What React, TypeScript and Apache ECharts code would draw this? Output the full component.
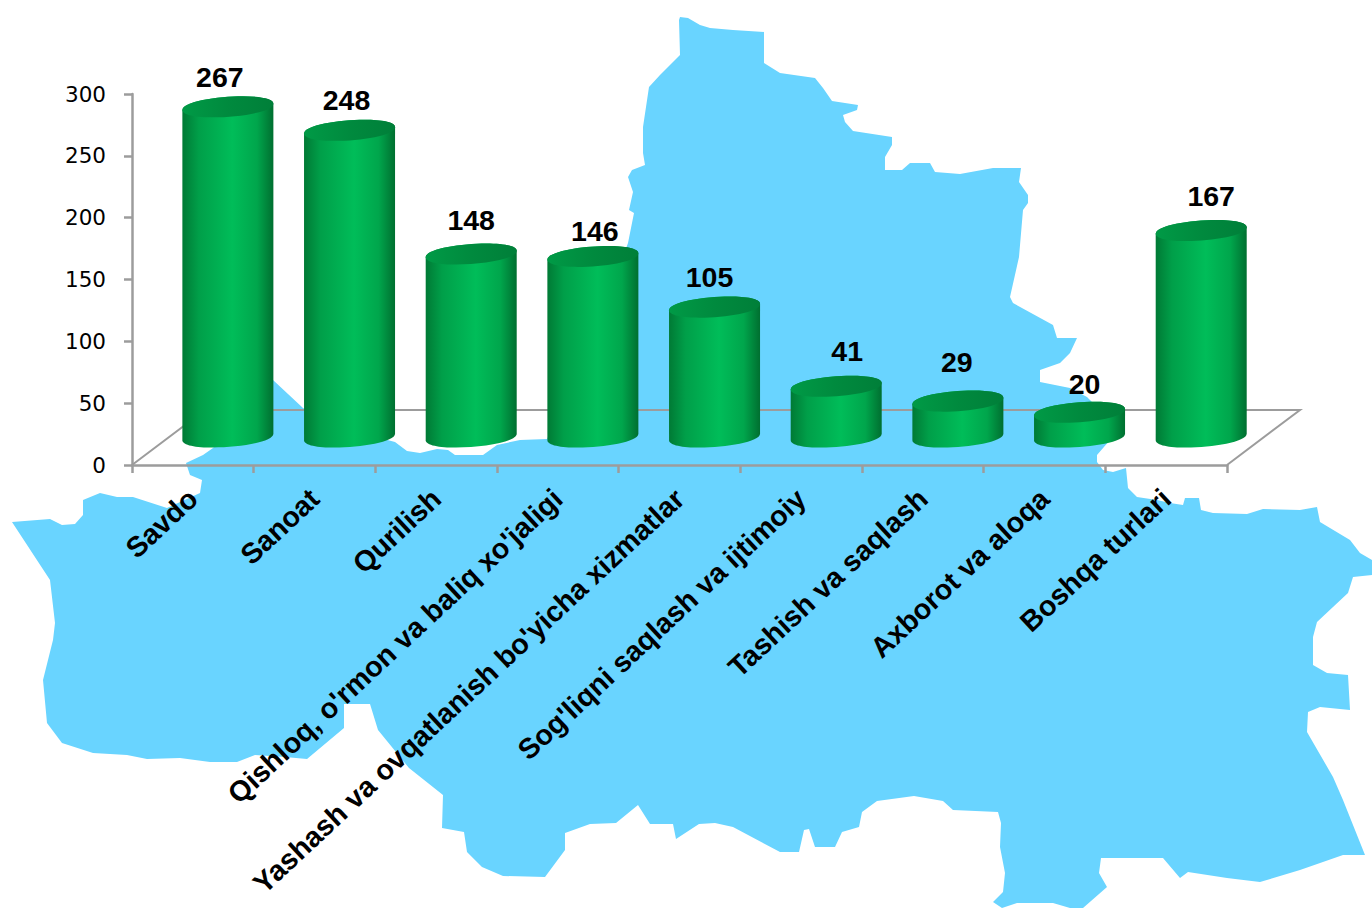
import React, { useEffect, useRef } from "react";
import * as echarts from "echarts";

const categories = [
  "Savdo",
  "Sanoat",
  "Qurilish",
  "Qishloq, o'rmon va baliq xo'jaligi",
  "Yashash va ovqatlanish bo'yicha xizmatlar",
  "Sog'liqni saqlash va ijtimoiy",
  "Tashish va saqlash",
  "Axborot va aloqa",
  "Boshqa turlari",
];
const values = [267, 248, 148, 146, 105, 41, 29, 20, 167];
const yTicks = { min: 0, max: 300, interval: 50 };

// Hand-placed nudges of the value labels in the reference.
const labelNudgeX = [-8, -3, 0, 2, -5, 11, -1, 5, 10];
const labelNudgeY = [-30, -30, -34, -25, -30, -35, -39, -28, -34];

const mapOutline: number[][] = [
  [680,17],[688,18],[700,25],[710,28],[733,30],[764,32],[764,63],[780,73],[815,78],[823,88],[832,101],[858,105],[857,110],[843,115],[845,122],[853,131],[892,137],[892,145],[885,157],[885,170],[902,170],[910,163],[930,163],[935,172],[960,174],[993,168],[1021,168],[1019,182],[1028,195],[1028,203],[1023,210],[1019,257],[1010,297],[1013,303],[1053,325],[1057,338],[1077,338],[1070,353],[1060,363],[1040,370],[1040,382],[1070,388],[1087,397],[1100,410],[1110,440],[1097,455],[1097,462],[1103,470],[1113,472],[1126,468],[1128,488],[1137,497],[1157,500],[1170,503],[1183,505],[1185,498],[1199,498],[1201,510],[1213,513],[1247,514],[1263,509],[1300,510],[1317,507],[1320,522],[1350,540],[1360,553],[1372,560],[1372,575],[1353,577],[1348,593],[1333,607],[1317,622],[1313,637],[1313,665],[1327,673],[1348,675],[1350,710],[1320,707],[1308,712],[1307,732],[1333,777],[1343,800],[1365,855],[1343,855],[1300,870],[1260,882],[1227,878],[1188,872],[1180,878],[1163,858],[1101,858],[1099,873],[1107,887],[1083,908],[1070,908],[1053,903],[1017,903],[1002,908],[993,902],[1003,892],[1005,873],[1000,847],[1001,823],[998,812],[953,810],[943,801],[914,796],[877,801],[862,812],[859,827],[842,832],[835,847],[815,847],[809,829],[804,830],[799,852],[780,852],[733,827],[715,823],[699,824],[676,839],[673,824],[650,824],[638,805],[616,823],[590,824],[565,833],[565,850],[545,877],[503,876],[482,867],[467,852],[464,832],[442,828],[443,795],[409,768],[378,730],[370,704],[344,704],[344,728],[307,759],[285,757],[255,755],[237,762],[210,762],[180,758],[147,759],[127,755],[93,753],[62,743],[47,723],[43,680],[53,640],[55,623],[50,580],[12,522],[50,519],[62,525],[75,524],[83,515],[83,500],[100,493],[117,497],[133,497],[167,508],[200,493],[202,480],[190,475],[186,463],[203,455],[213,448],[240,420],[273,380],[303,408],[350,430],[395,442],[407,451],[420,453],[437,449],[448,450],[455,455],[483,455],[497,445],[520,440],[547,439],[590,350],[628,243],[634,213],[629,210],[633,192],[628,177],[632,170],[645,165],[643,153],[643,127],[649,87],[660,75],[680,55],[679,20],
];

const BLACK = "#000";
const AXIS = "#9c9c9c";
const tilt = (4 * Math.PI) / 180;

function renderBar(params: any, api: any) {
  const i = api.value(0);
  const v = api.value(1);
  const top = api.coord([i, v]);
  const zero = api.coord([i, 0]);
  const band = api.size([1, 0])[0];
  const cx = top[0] + band * 0.288;
  const rx = band * 0.374;
  const ry = 10;
  const dy = rx * Math.sin(tilt);
  const lift = 28;
  const topY = top[1] - lift;
  const botY = zero[1] - lift;
  const k = ry * 1.333;
  const lx = cx - rx;
  const rr = cx + rx;
  // half ellipses with vertical tangents, so the cap never passes the body's sides
  const lower = (y: number) => `C ${lx} ${y + dy + k} ${rr} ${y - dy + k} ${rr} ${y - dy}`;
  const upper = (y: number) => `C ${rr} ${y - dy - k} ${lx} ${y + dy - k} ${lx} ${y + dy}`;
  const body = `M ${lx} ${topY + dy} L ${lx} ${botY + dy} ${lower(botY)} L ${rr} ${topY - dy} ${upper(topY)} Z`;
  const cap = `M ${lx} ${topY + dy} ${lower(topY)} ${upper(topY)} Z`;
  return {
    type: "group",
    children: [
      {
        type: "path",
        shape: { pathData: body },
        style: {
          fill: new echarts.graphic.LinearGradient(0, 0, 1, 0, [
            { offset: 0, color: "#007a35" },
            { offset: 0.18, color: "#009f49" },
            { offset: 0.55, color: "#00bd59" },
            { offset: 0.82, color: "#00a64c" },
            { offset: 1, color: "#006f30" },
          ]),
        },
      },
      {
        type: "path",
        shape: { pathData: cap },
        style: {
          fill: new echarts.graphic.LinearGradient(0, 0, 1, 0, [
            { offset: 0, color: "#009a46" },
            { offset: 0.5, color: "#008a3e" },
            { offset: 1, color: "#007f39" },
          ]),
        },
      },
      {
        type: "text",
        style: {
          text: String(v),
          x: cx + labelNudgeX[i],
          y: topY + labelNudgeY[i],
          align: "center",
          verticalAlign: "middle",
          fill: BLACK,
          font: 'bold 28.5px "Liberation Sans"',
        },
      },
    ],
  };
}

function renderFloor(params: any, api: any) {
  const g = params.coordSys;
  const bottom = g.y + g.height;
  const depthX = 73;
  const depthY = 55;
  return {
    type: "polyline",
    shape: {
      points: [
        [g.x, bottom],
        [g.x + depthX, bottom - depthY],
        [g.x + g.width + depthX, bottom - depthY],
        [g.x + g.width, bottom],
      ],
    },
    style: { fill: "none", stroke: AXIS, lineWidth: 2 },
  };
}

export default function App() {
  const ref = useRef<HTMLDivElement>(null);
  useEffect(() => {
    document.body.style.margin = "0";
    const chart = echarts.init(ref.current!, null, { renderer: "svg" });
    chart.setOption({
      animation: false,
      backgroundColor: "#fff",
      grid: { left: 132, right: 145, top: 94, bottom: 446, containLabel: false },
      graphic: [
        {
          type: "polygon",
          z: -10,
          silent: true,
          shape: { points: mapOutline },
          style: { fill: "#69d4ff" },
        },
      ],
      xAxis: {
        type: "category",
        data: categories,
        axisLine: { lineStyle: { color: AXIS, width: 2.5 } },
        axisTick: { show: true, length: 8, alignWithLabel: false, lineStyle: { color: AXIS, width: 2.5 } },
        axisLabel: {
          interval: 0,
          rotate: 43,
          margin: 29,
          color: BLACK,
          fontFamily: "Liberation Sans",
          fontWeight: "bold",
          fontSize: 28.6,
          hideOverlap: false,
        },
        z: 1,
      },
      yAxis: {
        type: "value",
        min: yTicks.min,
        max: yTicks.max,
        interval: yTicks.interval,
        splitLine: { show: false },
        axisLine: { show: true, lineStyle: { color: AXIS, width: 2.5 } },
        axisTick: { show: true, length: 8, lineStyle: { color: AXIS, width: 2.5 } },
        axisLabel: { margin: 26, color: BLACK, fontFamily: "DejaVu Sans", fontSize: 21.5, padding: [5, 0, 0, 0] },
        z: 1,
      },
      series: [
        {
          type: "custom",
          name: "floor",
          z: 1,
          clip: false,
          silent: true,
          data: [[0, 0]],
          encode: { x: 0, y: 1 },
          renderItem: renderFloor,
        },
        {
          type: "custom",
          name: "values",
          z: 3,
          clip: false,
          silent: true,
          data: values.map((v, i) => [i, v]),
          encode: { x: 0, y: 1 },
          renderItem: renderBar,
        },
      ],
    });
    return () => chart.dispose();
  }, []);
  return <div ref={ref} style={{ width: 1372, height: 911 }} />;
}
